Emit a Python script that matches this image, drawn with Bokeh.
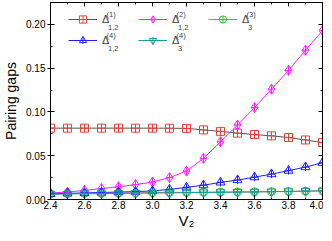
from bokeh.plotting import figure
from bokeh.models import (Range1d, LinearAxis, Legend, LegendItem, Label,
                          SingleIntervalTicker, NumeralTickFormatter, CustomJSTickFormatter)
from bokeh.embed import file_html
from bokeh.resources import INLINE

v2 = [2.4, 2.5, 2.6, 2.7, 2.8, 2.9, 3.0, 3.1, 3.2, 3.3, 3.4, 3.5, 3.6, 3.7, 3.8, 3.9, 4.0]
delta1_12 = [0.0815, 0.0815, 0.0815, 0.0815, 0.0815, 0.0815, 0.0815, 0.0814, 0.0812, 0.0795, 0.0778, 0.0758, 0.0742, 0.0727, 0.0708, 0.0680, 0.0650]
delta2_12 = [0.0075, 0.0085, 0.0105, 0.0125, 0.0145, 0.0170, 0.0200, 0.0250, 0.0325, 0.0470, 0.0660, 0.0850, 0.1050, 0.1260, 0.1475, 0.1705, 0.1930]
delta3_3 = [0.0065, 0.0068, 0.0070, 0.0072, 0.0074, 0.0076, 0.0078, 0.0080, 0.0082, 0.0083, 0.0085, 0.0086, 0.0088, 0.0090, 0.0093, 0.0096, 0.0099]
delta4_12 = [0.0065, 0.0070, 0.0075, 0.0080, 0.0085, 0.0090, 0.0098, 0.0115, 0.0138, 0.0164, 0.0195, 0.0222, 0.0255, 0.0290, 0.0330, 0.0370, 0.0420]
delta4_3 = [0.0060, 0.0063, 0.0066, 0.0068, 0.0070, 0.0072, 0.0074, 0.0076, 0.0078, 0.0080, 0.0082, 0.0084, 0.0086, 0.0089, 0.0092, 0.0095, 0.0099]

# legend entries in reading order (row 1: Δ1, Δ2, Δ3 ; row 2: Δ4_12, Δ4_3)
sup_labels = ["(1)", "(2)", "(3)", "(4)", "(4)"]
sub_labels = ["1,2", "1,2", "3", "1,2", "3"]

FONT = "Liberation Sans"
FW, FH = 272, 197

p = figure(frame_width=FW, frame_height=FH, output_backend="svg", toolbar_location=None,
           x_range=Range1d(2.4, 4.0), y_range=Range1d(0.0, 0.225),
           min_border_left=43, min_border_right=1, min_border_top=2, min_border_bottom=30)
p.background_fill_color = "white"
p.border_fill_color = "white"
p.outline_line_color = "black"
p.xgrid.visible = False
p.ygrid.visible = False

p.xaxis.ticker = SingleIntervalTicker(interval=0.2, num_minor_ticks=2)
p.yaxis.ticker = SingleIntervalTicker(interval=0.05, num_minor_ticks=2)
p.yaxis.formatter = NumeralTickFormatter(format="0.00")
p.xaxis.formatter = NumeralTickFormatter(format="0.0")

for ax in [p.xaxis[0], p.yaxis[0]]:
    ax.major_tick_in = 4
    ax.major_tick_out = 3
    ax.minor_tick_in = 2
    ax.minor_tick_out = 0
    ax.axis_line_color = "black"
    ax.major_label_text_font = FONT
    ax.major_label_text_font_size = "10px"
    ax.major_label_text_color = "black"
    ax.axis_label_text_font = FONT
    ax.axis_label_text_font_style = "normal"
    ax.axis_label_text_font_size = "14px"
    ax.axis_label_text_color = "black"
    ax.major_label_standoff = 2

p.yaxis.axis_label = "Pairing gaps"
p.yaxis.axis_label_standoff = 4
p.xaxis.axis_label = "V₂"
p.xaxis.axis_label_text_font_size = "15px"
p.xaxis.axis_label_standoff = 0
p.xaxis.major_tick_out = 0
p.xaxis.major_label_standoff = 1

blank = CustomJSTickFormatter(code="return ''")
top = LinearAxis(ticker=SingleIntervalTicker(interval=0.2, num_minor_ticks=2), formatter=blank)
right = LinearAxis(ticker=SingleIntervalTicker(interval=0.05, num_minor_ticks=2), formatter=blank)
for ax in [top, right]:
    ax.major_tick_in = 4
    ax.major_tick_out = 0
    ax.minor_tick_in = 2
    ax.minor_tick_out = 0
    ax.major_label_text_font_size = "1px"
    ax.major_label_standoff = 0
    ax.axis_line_color = "black"
p.add_layout(top, "above")
p.add_layout(right, "right")

MS = 8
red = "#f03c3c"
mag = "#ff22ff"
grn = "#22cc22"
blu = "#2020ff"
cya = "#1a9a9a"

l1 = p.line(v2, delta1_12, line_color="#555555", line_width=1)
m1 = p.scatter(v2, delta1_12, marker="square_cross", size=MS, line_color=red, fill_alpha=0, line_width=1)
l2 = p.line(v2, delta2_12, line_color=mag, line_width=1)
m2 = p.scatter(v2, delta2_12, marker="diamond_cross", size=MS + 2, line_color=mag, fill_alpha=0, line_width=1)
l3 = p.line(v2, delta3_3, line_color="#ff6060", line_width=1)
m3 = p.scatter(v2, delta3_3, marker="circle_cross", size=MS, line_color=grn, fill_alpha=0, line_width=1)
l4 = p.line(v2, delta4_12, line_color=blu, line_width=1)
m4 = p.scatter(v2, delta4_12, marker="triangle", size=MS + 1, line_color=blu, fill_alpha=0, line_width=1)
c4 = p.scatter(v2, delta4_12, marker="cross", size=MS, line_color=blu, line_width=1)
l5 = p.line(v2, delta4_3, line_color=cya, line_width=1)
m5 = p.scatter(v2, delta4_3, marker="inverted_triangle", size=MS + 1, line_color=cya, fill_alpha=0, line_width=1)
c5 = p.scatter(v2, delta4_3, marker="cross", size=MS, line_color=cya, line_width=1)

# legend fills column by column
items = [
    LegendItem(label="Δ", renderers=[l1, m1]),
    LegendItem(label="Δ", renderers=[l4, m4, c4]),
    LegendItem(label="Δ", renderers=[l2, m2]),
    LegendItem(label="Δ", renderers=[l5, m5, c5]),
    LegendItem(label="Δ", renderers=[l3, m3]),
]
GW, GH, LS, LW, SP = 29, 18, 5, 33, 3
LX, LTOP = 18, 7.5        # legend offset from frame left / frame top
legend = Legend(items=items, ncols=3, location=(LX, FH - LTOP - (2 * GH + SP)),
                glyph_width=GW, glyph_height=GH, label_height=GH, label_width=LW,
                label_standoff=LS, spacing=SP, padding=0, margin=0,
                border_line_color=None, background_fill_alpha=0,
                label_text_font=FONT, label_text_font_size="11px")
p.add_layout(legend, "center")

# superscripts / subscripts of the legend labels (frame-relative screen units)
pitch = GW + LS + LW + SP
pos = [(0, 0), (1, 0), (2, 0), (0, 1), (1, 1)]
for (c, r), sp, sb in zip(pos, sup_labels, sub_labels):
    xd = LX + c * pitch + GW + LS          # left edge of the Δ
    yc = FH - LTOP - GH / 2 - r * (GH + SP)  # row centre
    p.add_layout(Label(x=xd + 4, y=yc + 4.5, x_units="screen", y_units="screen", text=sp,
                       text_font=FONT, text_font_size="7.5px", text_baseline="middle"))
    p.add_layout(Label(x=xd + 5.5, y=yc - 8, x_units="screen", y_units="screen", text=sb,
                       text_font=FONT, text_font_size="7.5px", text_baseline="middle"))

open("out.html", "w").write(file_html(p, INLINE))
